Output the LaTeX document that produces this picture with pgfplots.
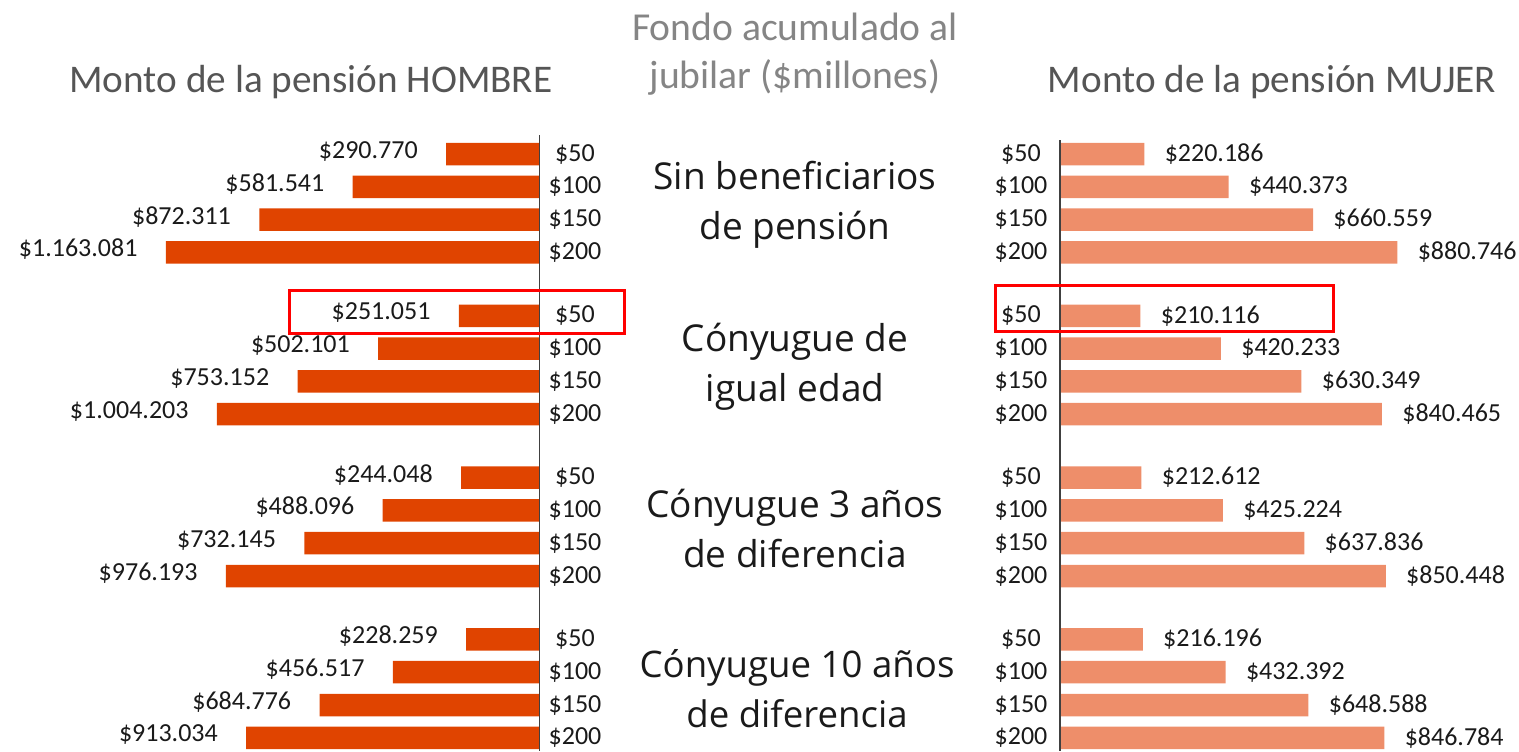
\documentclass[border=0pt]{standalone}
\usepackage{fontspec}
\setmainfont{Carlito}
\newfontfamily\grp{Open Sans}
\usepackage{pgfplots}
\usepackage{pgfplotstable}
\pgfplotsset{compat=1.18}
\definecolor{hbar}{HTML}{E04400}
\definecolor{mbar}{HTML}{EE8E6A}
\definecolor{ttl}{HTML}{555555}
\definecolor{ttl2}{HTML}{858585}
\definecolor{txt}{HTML}{1A1A1A}

\pgfplotstableread{
y val cat
154.0 290770 50
186.8 581541 100
219.6 872311 150
252.4 1163081 200
315.8 251051 50
348.6 502101 100
381.4 753152 150
414.2 1004203 200
477.6 244048 50
510.4 488096 100
543.2 732145 150
576.0 976193 200
639.4 228259 50
672.2 456517 100
705.0 684776 150
737.8 913034 200
}\hombre

\pgfplotstableread{
y val cat
154.0 220186 50
186.8 440373 100
219.6 660559 150
252.4 880746 200
315.8 210116 50
348.6 420233 100
381.4 630349 150
414.2 840465 200
477.6 212612 50
510.4 425224 100
543.2 637836 150
576.0 850448 200
639.4 216196 50
672.2 432392 100
705.0 648588 150
737.8 846784 200
}\mujer

\pgfplotsset{
  base/.style={scale only axis, height=375.5pt, ymin=0, ymax=751, y dir=reverse,
    hide axis, clip=false},
}
\tikzset{lbl/.style={inner sep=0pt, font=\fontsize{13}{15}\selectfont, text=txt}}

\begin{document}
\begin{tikzpicture}
\useasboundingbox (0,0) rectangle (759.5pt,-375.5pt);
% ---------- HOMBRE ----------
\begin{axis}[base, at={(0pt,0pt)}, anchor=north west, width=269.75pt,
  xmin=0, xmax=1679600, x dir=reverse]
\addplot[xbar, bar shift=0pt, bar width=11.25pt, fill=hbar, draw=none,
  nodes near coords={\$\pgfmathprintnumber[fixed,precision=0,1000 sep={.},assume math mode=true]{\pgfplotspointmeta}},
  point meta=x,
  every node near coord/.append style={lbl, anchor=east, xshift=-14pt, yshift=1.5pt}]
  table[x=val, y=y]{\hombre};
\addplot[draw=none, mark=none, nodes near coords={\$\pgfplotspointmeta},
  point meta=explicit symbolic,
  every node near coord/.append style={lbl, anchor=center, xshift=17.75pt}]
  table[x expr=0, y=y, meta=cat]{\hombre};
\draw[line width=0.9pt, color=black!75] (axis cs:0,135) -- (axis cs:0,751);
\end{axis}
% ---------- MUJER ----------
\begin{axis}[base, at={(530pt,0pt)}, anchor=north west, width=229.5pt,
  xmin=0, xmax=1198400]
\addplot[xbar, bar shift=0pt, bar width=11.25pt, fill=mbar, draw=none,
  nodes near coords={\$\pgfmathprintnumber[fixed,precision=0,1000 sep={.},assume math mode=true]{\pgfplotspointmeta}},
  point meta=x,
  every node near coord/.append style={lbl, anchor=west, xshift=10pt}]
  table[x=val, y=y]{\mujer};
\addplot[draw=none, mark=none, nodes near coords={\$\pgfplotspointmeta},
  point meta=explicit symbolic,
  every node near coord/.append style={lbl, anchor=center, xshift=-19.5pt}]
  table[x expr=0, y=y, meta=cat]{\mujer};
\draw[line width=0.9pt, color=black!75] (axis cs:0,140) -- (axis cs:0,751);
\end{axis}
% ---------- texts ----------
\begin{scope}[x=0.5pt, y=-0.5pt]
\node[font=\fontsize{19.6}{23}\selectfont, text=ttl, anchor=base] at (311,92) {Monto de la pensión HOMBRE};
\node[font=\fontsize{19.6}{23}\selectfont, text=ttl, anchor=base] at (1272,92) {Monto de la pensión MUJER};
\node[font=\fontsize{19.8}{24}\selectfont, text=ttl2, align=center] at (795,54) {Fondo acumulado al\\jubilar (\$millones)};
\node[font=\grp\fontsize{18.5}{25}\selectfont, text=txt, align=center] at (795,205) {Sin beneficiarios\\de pensión};
\node[font=\grp\fontsize{18.5}{25}\selectfont, text=txt, align=center] at (795,367) {Cónyugue de\\igual edad};
\node[font=\grp\fontsize{18.5}{25}\selectfont, text=txt, align=center] at (795,528) {Cónyugue 3 años\\de diferencia};
\node[font=\grp\fontsize{18.3}{25}\selectfont, text=txt, align=center] at (797,689) {Cónyugue 10 años\\de diferencia};
\draw[red, line width=1.5pt] (289,290) rectangle (624,333);
\draw[red, line width=1.5pt] (995,285) rectangle (1333,331);
\end{scope}
\end{tikzpicture}
\end{document}
